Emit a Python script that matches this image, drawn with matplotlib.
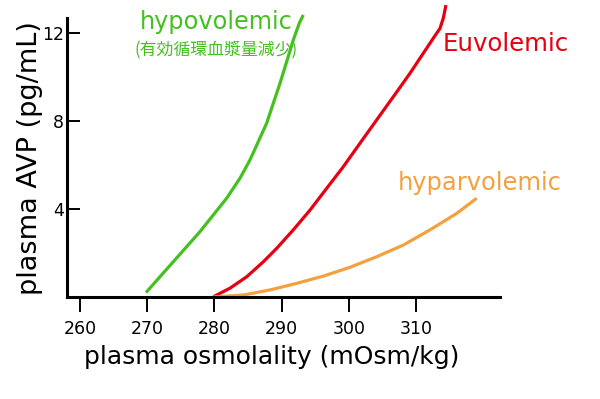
import matplotlib
matplotlib.use("Agg")
import matplotlib.pyplot as plt

# plasma osmolality (mOsm/kg) vs plasma AVP (pg/mL)
hypo_x = [269.82, 271.90, 273.88, 275.88, 277.86, 279.84, 281.83, 283.81, 285.30,
          286.53, 287.78, 288.76, 289.76, 290.76, 291.74, 292.63, 293.23]
hypo_y = [0.20, 0.92, 1.60, 2.29, 2.97, 3.73, 4.49, 5.40, 6.23,
          7.06, 7.90, 8.80, 9.71, 10.70, 11.68, 12.44, 12.82]

euvo_x = [279.84, 282.32, 284.81, 287.28, 289.27, 291.74, 294.23, 296.71, 299.18,
          301.67, 304.15, 306.62, 309.11, 311.09, 312.57, 313.57, 314.06, 314.46]
euvo_y = [0.01, 0.40, 0.92, 1.60, 2.21, 3.05, 3.95, 4.94, 5.92,
          6.99, 8.05, 9.10, 10.17, 11.08, 11.76, 12.21, 12.67, 13.27]

hyper_x = [279.84, 284.30, 288.27, 292.25, 296.21, 300.18, 304.15, 308.11, 312.08,
           316.06, 319.03]
hyper_y = [0.0, 0.09, 0.32, 0.62, 0.95, 1.35, 1.83, 2.36, 3.05, 3.80, 4.49]

xticks = [260, 270, 280, 290, 300, 310]
yticks = [4, 8, 12]

green = "#44c01f"
red = "#e60012"
orange = "#f4a03e"

fig = plt.figure(figsize=(6, 3.99), dpi=100)
ax = fig.add_axes([67 / 600, 1 - 297 / 399, 433 / 600, 297 / 399])

for xs, ys, c in [(hypo_x, hypo_y, green), (euvo_x, euvo_y, red), (hyper_x, hyper_y, orange)]:
    ax.plot(xs, ys, color=c, lw=2.3, solid_capstyle="butt",
            solid_joinstyle="round", clip_on=False)

ax.set_xlim(258.07, 322.5)
ax.set_ylim(0, 13.5)
for s in ["top", "right"]:
    ax.spines[s].set_visible(False)
for s in ["left", "bottom"]:
    ax.spines[s].set_linewidth(2.2)
ax.spines["left"].set_bounds(0, 12.7)

ax.set_xticks(xticks)
ax.set_yticks(yticks)
ax.tick_params(axis="x", direction="out", length=10.5, width=1.4, pad=6, labelsize=12.5)
ax.tick_params(axis="y", direction="in", length=9.5, width=1.4, pad=2, labelsize=12.5)

fig.text(272 / 600, 1 - 357 / 399, "plasma osmolality (mOsm/kg)", fontsize=18,
         ha="center", va="center")
fig.text(30 / 600, 1 - 158 / 399, "plasma AVP (pg/mL)", fontsize=19.5,
         ha="center", va="center", rotation=90)

fig.text(140 / 600, 1 - 22 / 399, "hypovolemic", color=green, fontsize=17.3,
         ha="left", va="center")
fig.text(134 / 600, 1 - 50 / 399, "(有効循環血漿量減少)", color=green, fontsize=12.2,
         ha="left", va="center", family=["Noto Sans CJK JP", "DejaVu Sans"])
fig.text(443 / 600, 1 - 44 / 399, "Euvolemic", color=red, fontsize=17.6,
         ha="left", va="center")
fig.text(398 / 600, 1 - 183 / 399, "hyparvolemic", color=orange, fontsize=17.4,
         ha="left", va="center")

fig.savefig("out.png", dpi=100)
